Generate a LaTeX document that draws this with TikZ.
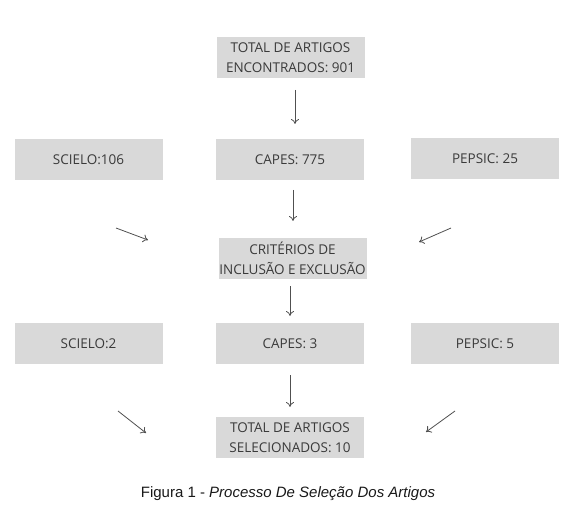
\documentclass[tikz,border=0pt]{standalone}
\usepackage{fontspec}
\setmainfont{Open Sans}
\newfontfamily\capfont{Liberation Sans}
\usetikzlibrary{arrows.meta}
\definecolor{boxfill}{HTML}{D9D9D9}
\definecolor{boxtext}{HTML}{3A3A3A}
\definecolor{arrowc}{HTML}{505050}
\tikzset{
  box/.style={fill=boxfill, text=boxtext, minimum width=148pt, minimum height=41pt,
    inner sep=0pt, align=center, font=\fontsize{13.5}{19.5}\selectfont},
  arr/.style={draw=arrowc, line width=0.8pt, -{To[length=5pt,width=8pt]}}
}
\begin{document}
\begin{tikzpicture}[x=1pt,y=-1pt]
\useasboundingbox (0,0) rectangle (580,510);
\fill[white] (0,0) rectangle (580,510);
% nodes
\node[box] (top) at (290.5,57.5) {TOTAL DE ARTIGOS\\ENCONTRADOS: 901};
\node[box] (s1) at (88.5,159.5) {SCIELO:106};
\node[box] (c1) at (290,159.5) {CAPES: 775};
\node[box] (p1) at (485,159) {PEPSIC: 25};
\node[box] (crit) at (292.5,258.5) {CRITÉRIOS DE\\INCLUSÃO E EXCLUSÃO};
\node[box] (s2) at (88.5,343.5) {SCIELO:2};
\node[box] (c2) at (290,343.5) {CAPES: 3};
\node[box] (p2) at (485,343.5) {PEPSIC: 5};
\node[box] (fin) at (290,437.5) {TOTAL DE ARTIGOS\\SELECIONADOS: 10};
\node[font=\capfont\fontsize{15}{18}\selectfont, text=black!90] (cap) at (288,494)
  {Figura 1 - \textit{Processo De Seleção Dos Artigos}};
% free arrow coordinates
\coordinate (a1s) at (295,90);  \coordinate (a1e) at (295,124);
\coordinate (a2s) at (293,190); \coordinate (a2e) at (293,221);
\coordinate (l1s) at (116,228); \coordinate (l1e) at (148,240);
\coordinate (r1s) at (451,228); \coordinate (r1e) at (419,242);
\coordinate (a3s) at (290,286); \coordinate (a3e) at (290,316);
\coordinate (a4s) at (290,375); \coordinate (a4e) at (290,407);
\coordinate (l2s) at (118,411); \coordinate (l2e) at (146,433);
\coordinate (r2s) at (455,411); \coordinate (r2e) at (426,432);
\draw[arr] (a1s) -- (a1e);
\draw[arr] (a2s) -- (a2e);
\draw[arr] (l1s) -- (l1e);
\draw[arr] (r1s) -- (r1e);
\draw[arr] (a3s) -- (a3e);
\draw[arr] (a4s) -- (a4e);
\draw[arr] (l2s) -- (l2e);
\draw[arr] (r2s) -- (r2e);
\end{tikzpicture}
\end{document}
